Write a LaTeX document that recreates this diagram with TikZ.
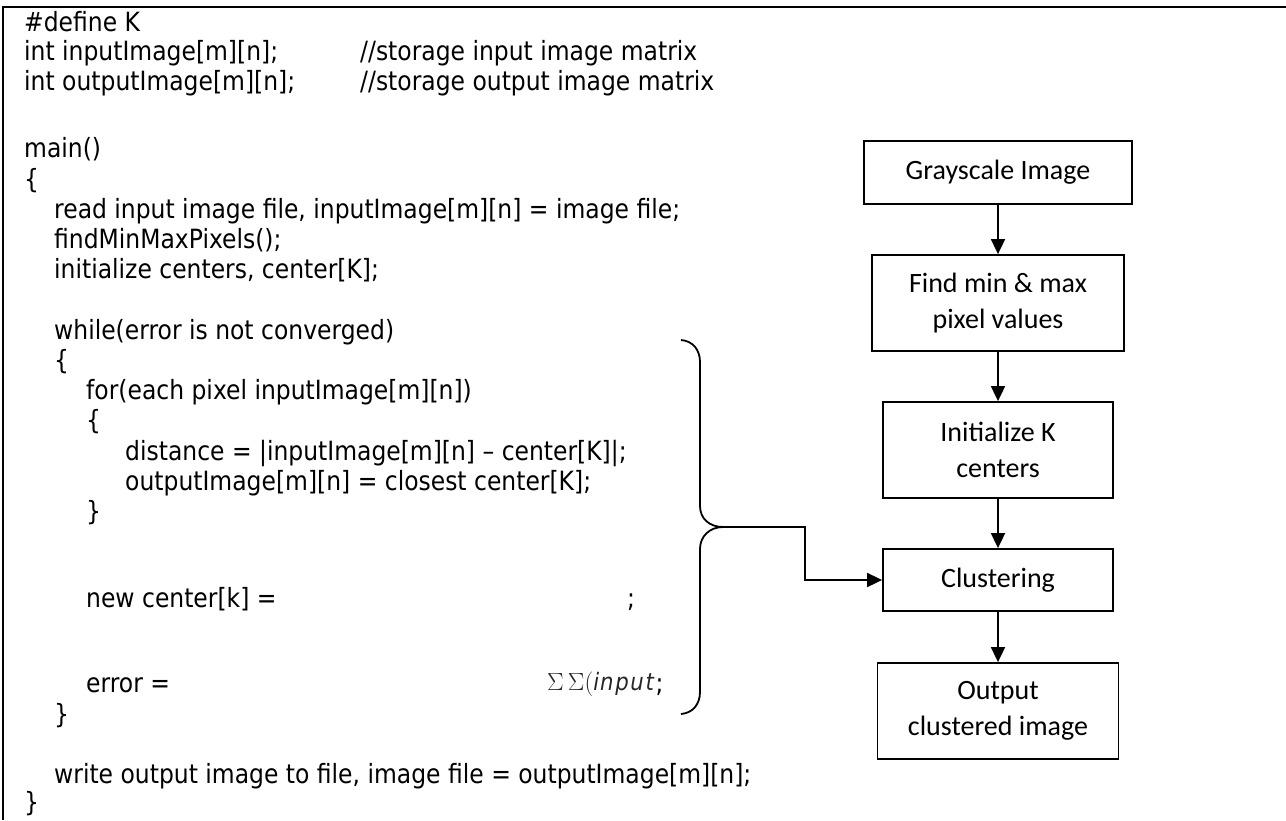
\documentclass[tikz,border=0pt]{standalone}
\usepackage{fontspec}
\setmainfont{DejaVu Sans}[FakeStretch=0.885]
\newfontfamily\boxfont{Carlito}
\usetikzlibrary{arrows.meta}

\begin{document}
\begin{tikzpicture}[x=1pt,y=-1pt,
  code/.style={anchor=base west, inner sep=0pt, font=\fontsize{26.5}{30}\selectfont},
  stepbox/.style={draw, line width=1.8pt, align=center, inner sep=0pt,
                  font=\boxfont\fontsize{28}{36}\selectfont},
  flow/.style={line width=1.8pt, -{Triangle[length=15pt,width=14pt]}},
  frame/.style={line width=2pt},
  brace/.style={line width=1.8pt}]
\useasboundingbox (0,0) rectangle (1286,820);

% frame of the listing
\draw[frame] (3,820) -- (3,7) -- (1286,7);

% pseudo-code listing (indent levels 24 / 54 / 86 / 125)
\node[code] (l1)  at (24,31)    {\#define K};
\node[code] (l2)  at (24,60)    {int inputImage[m][n];};
\node[code] (c2)  at (360,60)   {//storage input image matrix};
\node[code] (l3)  at (24,90)    {int outputImage[m][n];};
\node[code] (c3)  at (360,90)   {//storage output image matrix};
\node[code] (l5)  at (24,157.5) {main()};
\node[code] (l6)  at (24,188)   {\{};
\node[code] (l7)  at (54,218)   {read input image file, inputImage[m][n] = image file;};
\node[code] (l8)  at (54,248)   {findMinMaxPixels();};
\node[code] (l9)  at (54,278)   {initialize centers, center[K];};
\node[code] (l11) at (54,339)   {while(error is not converged)};
\node[code] (l12) at (54,369)   {\{};
\node[code] (l13) at (86,399.5) {for(each pixel inputImage[m][n])};
\node[code] (l14) at (86,429.5) {\{};
\node[code] (l15) at (125,460)  {distance = |inputImage[m][n] – center[K]|;};
\node[code] (l16) at (125,490)  {outputImage[m][n] = closest center[K];};
\node[code] (l17) at (86,520)   {\}};
\node[code] (l20) at (86,607)   {new center[k] =};
\node[code] (s20) at (627,607)  {;};
\node[code] (l23) at (86,692)   {error =};
\node[code, font=\fontsize{24}{26}\selectfont, text=black!85] (f23) at (547,690)
  {$\Sigma\,\Sigma(\mathit{input}$};
\node[code] (s23) at (f23.base east |- l23.base) {;};
\node[code] (l24) at (54,723)   {\}};
\node[code] (l26) at (54,783)   {write output image to file, image file = outputImage[m][n];};
\node[code] (l27) at (24,811)   {\}};

% flow chart
\node[stepbox, minimum width=268pt, minimum height=63pt] (g) at (998,172.5) {Grayscale Image};
\node[stepbox, minimum width=252pt, minimum height=96pt] (f) at (998,303) {Find min \& max\\pixel values};
\node[stepbox, minimum width=230pt, minimum height=96pt] (i) at (998,450) {Initialize K\\centers};
\node[stepbox, minimum width=230pt, minimum height=62pt] (c) at (998,580) {Clustering};
\node[stepbox, minimum width=241pt, minimum height=96pt] (o) at (998,711) {Output\\clustered image};

\draw[flow] (g) -- (f);
\draw[flow] (f) -- (i);
\draw[flow] (i) -- (c);
\draw[flow] (c) -- (o);

% brace grouping the loop body
\coordinate (tip) at (723,527);
\draw[brace] (681,340) .. controls (693,341) and (700,350) .. (700,362)
  -- (700,506) .. controls (700,519) and (710,527) .. (tip)
  .. controls (710,527) and (700,536) .. (700,549)
  -- (700,692) .. controls (700,704) and (693,713) .. (681,714);
\draw[flow] (tip) -- ++(82,0) |- (c.west);
\end{tikzpicture}
\end{document}
